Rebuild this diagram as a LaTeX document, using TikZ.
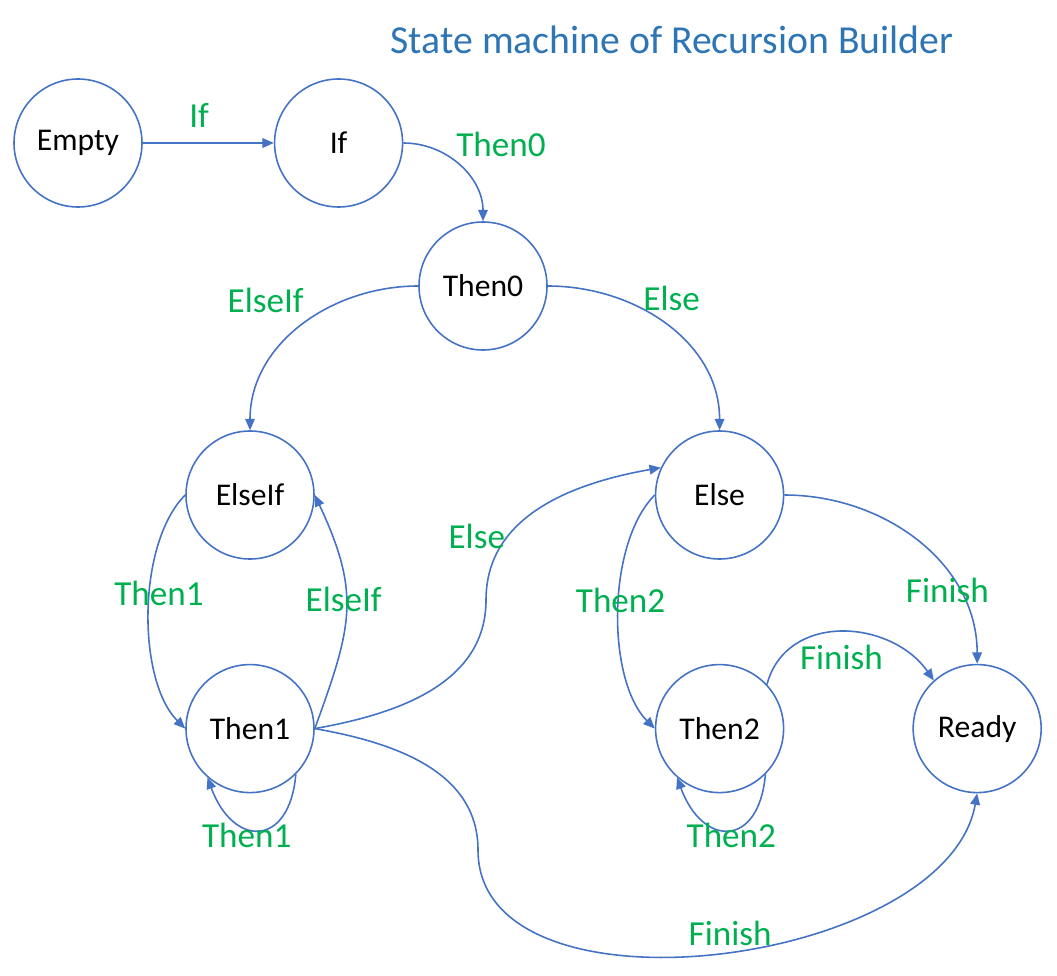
\documentclass[tikz,border=0pt]{standalone}
\usepackage{fontspec}
\setmainfont{Carlito}
\usepackage{tikz}
\usetikzlibrary{arrows.meta, positioning}
\definecolor{lineblue}{RGB}{68, 114, 196}
\definecolor{titleblue}{RGB}{46, 117, 182}
\definecolor{labelgreen}{RGB}{0, 176, 80}

\begin{document}
\begin{tikzpicture}[
    state/.style={circle, minimum size=2.56cm, inner sep=0pt, draw=lineblue, line width=0.9pt, fill=white, font=\fontsize{18}{22}\selectfont},
    lbl/.style={text=labelgreen, font=\fontsize{20}{24}\selectfont, inner sep=0pt},
    arrow/.style={draw=lineblue, line width=0.9pt, ->, >={Triangle[length=6.5pt, width=5.5pt]}}
]
    \useasboundingbox (0,0) rectangle (21.14,19.5);
    \node[text=titleblue, font=\fontsize{22.6}{27}\selectfont] (title) at (13.44,18.7) {State machine of Recursion Builder};
    \node[state] (empty) at (1.56,16.64) {Empty};
    \node[state, right=2.62cm of empty] (if) {If};
    \node[state] (then0) at (9.66,13.78) {Then0};
    \node[state] (elseif) at (5.00,9.60) {ElseIf};
    \node[state, right=6.8cm of elseif] (else) {Else};
    \node[state, below=2.08cm of elseif] (then1) {Then1};
    \node[state, below=2.08cm of else] (then2) {Then2};
    \node[state, right=2.56cm of then2] (ready) {Ready};
    \coordinate (c7) at (9.72,7.50);
    \coordinate (c8) at (9.56,2.50);
    \draw[arrow] (empty) -- node[lbl, pos=0.43, yshift=0.56cm] {If} (if);
    \draw[arrow] (if.east) to[out=0, in=90] node[lbl, xshift=0.83cm, yshift=0.42cm] {Then0} (then0.north);
    \draw[arrow] (then0.west) to[out=180, in=90] node[lbl, xshift=-0.72cm, yshift=0.5cm] {ElseIf} (elseif.north);
    \draw[arrow] (then0.east) to[out=0, in=90] node[lbl, xshift=0.1cm, yshift=0.54cm] {Else} (else.north);
    \draw[arrow] (elseif.west) to[out=225, in=135, looseness=0.75] node[lbl, xshift=0.2cm, yshift=0.36cm] {Then1} (then1.west);
    \draw[arrow] (then1.east) to[out=70, in=-65, looseness=1.2] node[lbl, xshift=-0.05cm, yshift=0.22cm] {ElseIf} (elseif.east);
    \draw[arrow] (then1.east) to[out=10, in=-90] (c7) to[out=90, in=190] node[lbl, pos=0.3, xshift=-0.62cm] {Else} (else.155);
    \draw[arrow] (then1.east) to[out=-10, in=90] (c8) to[out=-90, in=-100, looseness=0.9] node[lbl, xshift=0.28cm, yshift=0.4cm] {Finish} (ready.south);
    \draw[arrow] (then1.-45) to[out=-95, in=-70, looseness=2.15] node[lbl, xshift=-0.24cm, yshift=-0.12cm] {Then1} (then1.-131);
    \draw[arrow] (else.west) to[out=225, in=135, looseness=0.75] node[lbl, xshift=0.04cm, yshift=0.22cm] {Then2} (then2.west);
    \draw[arrow] (else.east) to[out=0, in=90] node[lbl, pos=0.7, xshift=-0.14cm, yshift=-0.14cm] {Finish} (ready.north);
    \draw[arrow] (then2.43) to[out=75, in=125, looseness=1.15] node[lbl, yshift=-0.5cm] {Finish} (ready.132);
    \draw[arrow] (then2.-45) to[out=-95, in=-70, looseness=2.15] node[lbl, xshift=0.06cm, yshift=-0.12cm] {Then2} (then2.-131);
\end{tikzpicture}
\end{document}
